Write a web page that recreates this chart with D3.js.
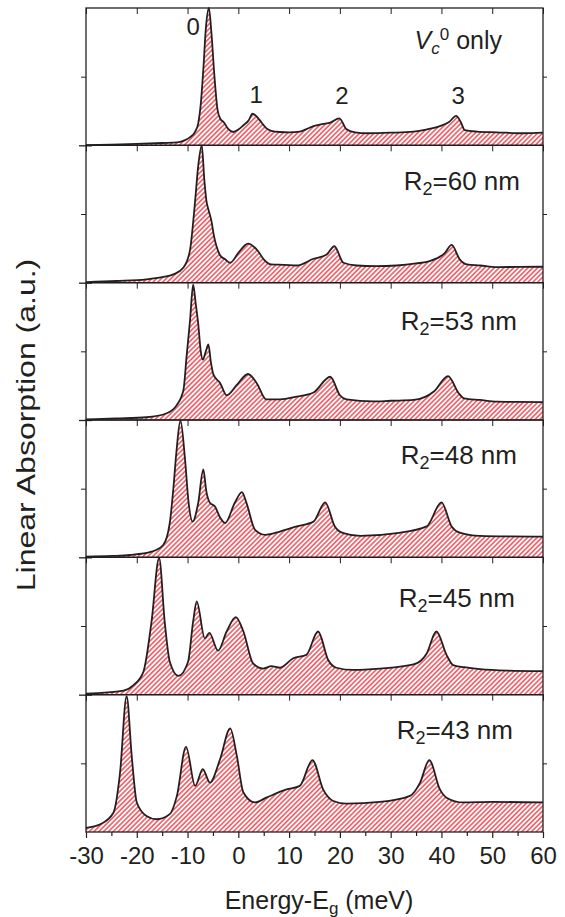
<!DOCTYPE html>
<html lang="en">
<head>
<meta charset="UTF-8">
<title>Linear Absorption</title>
<script src="https://cdn.jsdelivr.net/npm/d3@7"></script>
<style>
    body { margin: 0; padding: 0; background: #fff; }
    svg { display: block; font-family: "Liberation Sans", Arial, sans-serif; }
</style>
</head>
<body>
<div id="chart"></div>
<script>
    // Spectra: [energy (meV), absorption relative to panel height]
    const vc0Only = [[-30,0.002],[-25,0.005],[-20,0.01],[-15,0.017],[-12,0.022],[-10.5,0.038],[-9.5,0.06],[-8.5,0.1],[-7.9,0.16],[-7.4,0.3],[-6.9,0.55],[-6.4,0.85],[-5.8,1.0],[-5.3,0.82],[-4.7,0.5],[-4.1,0.26],[-3.5,0.19],[-2.9,0.17],[-2,0.12],[-1,0.097],[0,0.115],[1,0.146],[2,0.18],[2.8,0.23],[3.6,0.21],[4.5,0.17],[5.5,0.125],[6.5,0.105],[8.2,0.097],[10,0.095],[12.1,0.1],[13.5,0.12],[14.8,0.14],[16.5,0.155],[18.1,0.165],[19.9,0.197],[21.3,0.117],[23,0.095],[25.3,0.088],[30,0.092],[34.5,0.1],[37,0.115],[39.7,0.14],[41.5,0.17],[42.9,0.214],[43.8,0.17],[44.6,0.11],[47,0.1],[50.9,0.095],[56.1,0.088],[60,0.092]];
    const r60 = [[-30,0.004],[-24,0.012],[-18.1,0.024],[-15,0.04],[-12.8,0.06],[-10.8,0.11],[-9.5,0.24],[-9,0.4],[-8.5,0.6],[-7.9,0.85],[-7.2,1.0],[-6.7,0.75],[-6.3,0.6],[-5.8,0.52],[-5.3,0.45],[-4.8,0.34],[-4.3,0.265],[-3.6,0.2],[-2.6,0.17],[-1.6,0.145],[0,0.217],[1.9,0.285],[3.9,0.229],[5,0.17],[6.5,0.133],[9,0.13],[11.5,0.125],[14.8,0.174],[17.4,0.205],[18.9,0.265],[20.7,0.145],[23.3,0.125],[27,0.12],[31.2,0.125],[35,0.14],[37.7,0.157],[40.7,0.217],[42,0.275],[43.6,0.17],[45,0.133],[47.6,0.125],[50.9,0.113],[55,0.115],[60,0.116]];
    const r53 = [[-30,0.005],[-24,0.012],[-18.1,0.02],[-14.1,0.049],[-12.1,0.11],[-10.8,0.22],[-10.2,0.46],[-9.5,0.73],[-8.9,0.985],[-8.4,0.85],[-7.9,0.7],[-7.4,0.5],[-7,0.44],[-6.4,0.5],[-5.9,0.55],[-5.4,0.42],[-4.9,0.33],[-3.6,0.27],[-2.3,0.18],[-0.3,0.255],[1.9,0.335],[3.6,0.27],[5.5,0.15],[8.2,0.15],[11.5,0.17],[14.8,0.2],[18.1,0.315],[20,0.18],[21.3,0.15],[26.6,0.135],[30,0.14],[34.5,0.146],[38.5,0.207],[41.3,0.32],[43.4,0.195],[44.4,0.158],[47.6,0.146],[51,0.134],[55,0.132],[60,0.13]];
    const r48 = [[-30,0.005],[-25,0.01],[-21.3,0.017],[-17.1,0.041],[-14.8,0.09],[-13.5,0.25],[-12.8,0.5],[-12.2,0.765],[-11.4,0.997],[-10.5,0.715],[-9.8,0.4],[-9,0.26],[-7.9,0.397],[-6.9,0.64],[-6.3,0.48],[-5.6,0.397],[-4.6,0.37],[-3.6,0.29],[-2.6,0.25],[-0.7,0.397],[0.7,0.475],[1.6,0.397],[3.3,0.2],[5.3,0.164],[8.2,0.188],[11.5,0.225],[14.8,0.26],[17.1,0.4],[19,0.225],[20.7,0.176],[24,0.156],[31.2,0.176],[37.1,0.225],[40,0.4],[42,0.225],[43.6,0.18],[47.6,0.156],[53,0.152],[60,0.151]];
    const r45 = [[-30,0.007],[-22.6,0.03],[-20.7,0.068],[-18.7,0.166],[-17.1,0.53],[-15.6,0.995],[-14.5,0.53],[-13.5,0.24],[-11.8,0.137],[-9.9,0.24],[-8.9,0.533],[-8.2,0.68],[-6.6,0.41],[-5.7,0.45],[-4,0.32],[-2.3,0.46],[-0.5,0.565],[1,0.46],[2.9,0.228],[4.9,0.19],[6.5,0.208],[8.2,0.196],[10.8,0.265],[13.4,0.29],[15.7,0.46],[17.7,0.252],[19.3,0.196],[22.6,0.18],[27.9,0.19],[34.5,0.22],[37.1,0.3],[39,0.46],[41,0.29],[42.3,0.215],[44.5,0.2],[47.6,0.186],[53,0.175],[60,0.171]];
    const r43 = [[-30,0.03],[-27.2,0.056],[-24.6,0.14],[-23.3,0.43],[-22,0.99],[-21,0.555],[-20,0.215],[-18.1,0.117],[-16.1,0.093],[-13.5,0.13],[-12.1,0.263],[-10.3,0.62],[-8.5,0.336],[-7,0.458],[-5.6,0.36],[-3.6,0.53],[-1.6,0.755],[-0.3,0.555],[1,0.288],[3.3,0.215],[5.5,0.25],[9.5,0.31],[12.1,0.336],[14.6,0.523],[16.7,0.31],[18.7,0.226],[21.3,0.207],[27.9,0.219],[33.8,0.263],[35.8,0.36],[37.6,0.523],[39.7,0.31],[41,0.25],[44.3,0.215],[50,0.219],[60,0.215]];

    const spectra = [vc0Only, r60, r53, r48, r45, r43];
    const panelLabels = ["vc0", "R2=60 nm", "R2=53 nm", "R2=48 nm", "R2=45 nm", "R2=43 nm"];
    const peakLabels = ["0", "1", "2", "3"];
    const peakEnergies = [-8.9, 3.5, 20.4, 43.3];
    const peakHeights = [0.80, 0.31, 0.30, 0.30];
    const energyTicks = d3.range(-30, 61, 10);
    const minorTicks = d3.range(-25, 60, 10);

    const width = 565, height = 917;
    const plotTop = 8, plotBottom = 832;
    const plotLeft = 86, plotRight = 543;
    const ink = "#231f20";

    const svg = d3.select("#chart").append("svg")
        .attr("width", width)
        .attr("height", height);

    // red diagonal hatch
    const pat = svg.append("defs").append("pattern")
        .attr("id", "hatch")
        .attr("patternUnits", "userSpaceOnUse")
        .attr("width", 3.4).attr("height", 3.4)
        .attr("patternTransform", "rotate(45)");
    pat.append("rect").attr("width", 3.4).attr("height", 3.4).attr("fill", "#fff");
    pat.append("line")
        .attr("x1", 1.7).attr("y1", 0).attr("x2", 1.7).attr("y2", 3.4)
        .attr("stroke", "#ef2530").attr("stroke-width", 1.2);

    const x = d3.scaleLinear().domain([-30, 60]).range([plotLeft, plotRight]);
    const band = d3.scaleBand().domain(d3.range(spectra.length)).range([plotTop, plotBottom]);

    // label placement (right end, offset from panel top)
    const labelRight = [502, 520, 517, 517, 515, 513];
    const labelDrop = [41, 45, 47, 43.5, 50, 44.5];

    spectra.forEach((data, i) => {
        const y0 = band(i), y1 = band(i) + band.bandwidth();
        const y = d3.scaleLinear().domain([0, 1]).range([y1, y0]);
        const g = svg.append("g");

        const area = d3.area()
            .x(d => x(d[0])).y0(y1).y1(d => y(d[1]))
            .curve(d3.curveMonotoneX);
        const line = d3.line()
            .x(d => x(d[0])).y(d => y(d[1]))
            .curve(d3.curveMonotoneX);

        g.append("path").datum(data).attr("d", area).attr("fill", "url(#hatch)");
        g.append("path").datum(data).attr("d", line)
            .attr("fill", "none").attr("stroke", ink).attr("stroke-width", 1.8)
            .attr("stroke-linejoin", "round");

        g.append("rect")
            .attr("x", plotLeft).attr("y", y0)
            .attr("width", plotRight - plotLeft).attr("height", y1 - y0)
            .attr("fill", "none").attr("stroke", ink).attr("stroke-width", 1.3);

        // inward ticks on top edge
        g.append("g").attr("transform", `translate(0,${y0})`)
            .call(d3.axisTop(x).tickValues(energyTicks).tickSize(-6).tickFormat(""))
            .call(a => a.select(".domain").remove())
            .selectAll("line").attr("stroke", ink).attr("stroke-width", 1);

        // left ticks: mid (outward) and boundary (crossing)
        g.append("g").attr("transform", `translate(${plotLeft},0)`)
            .call(d3.axisLeft(y).tickValues([0.5]).tickSize(5).tickFormat(""))
            .call(a => a.select(".domain").remove())
            .selectAll("line").attr("stroke", ink).attr("stroke-width", 1);
        if (i < spectra.length - 1) {
            g.append("g").attr("transform", `translate(${plotLeft},0)`)
                .call(d3.axisLeft(y).tickValues([0]).tickSize(7).tickFormat(""))
                .call(a => a.select(".domain").remove())
                .selectAll("line").attr("stroke", ink).attr("stroke-width", 1.3);
            g.append("g").attr("transform", `translate(${plotLeft},0)`)
                .call(d3.axisRight(y).tickValues([0]).tickSize(6).tickFormat(""))
                .call(a => a.select(".domain").remove())
                .selectAll("line").attr("stroke", ink).attr("stroke-width", 1.3);
        }
        g.append("g").attr("transform", `translate(${plotRight},0)`)
            .call(d3.axisRight(y).tickValues([0.5]).tickSize(4).tickFormat(""))
            .call(a => a.select(".domain").remove())
            .selectAll("line").attr("stroke", ink).attr("stroke-width", 1);

        // panel label
        const t = g.append("text")
            .attr("x", labelRight[i]).attr("y", y0 + labelDrop[i])
            .attr("text-anchor", "end")
            .attr("fill", ink);
        if (i === 0) {
            t.attr("font-size", 25);
            t.append("tspan").attr("font-style", "italic").text("V");
            t.append("tspan").attr("font-style", "italic").attr("font-size", 17).attr("dy", 5).text("c");
            t.append("tspan").attr("font-size", 17).attr("dy", -14).text("0");
            t.append("tspan").attr("dy", 9).text(" only");
        } else {
            const parts = panelLabels[i].split("2");
            t.attr("font-size", 26);
            t.append("tspan").text(parts[0]);
            t.append("tspan").attr("font-size", 18).attr("dy", 5).text("2");
            t.append("tspan").attr("dy", -5).text(parts[1]);
        }

        if (i === 0) {
            g.selectAll(".peak").data(peakLabels).join("text")
                .attr("x", (d, k) => x(peakEnergies[k]))
                .attr("y", (d, k) => y(peakHeights[k]))
                .attr("text-anchor", "middle")
                .attr("font-size", 24)
                .attr("fill", ink)
                .text(d => d);
        }
    });

    // bottom axis
    const xAxis = svg.append("g").attr("transform", `translate(0,${plotBottom})`)
        .call(d3.axisBottom(x).tickValues(energyTicks).tickSize(6).tickPadding(9)
            .tickFormat(d => String(d)));
    xAxis.select(".domain").remove();
    xAxis.selectAll("line").attr("stroke", ink).attr("stroke-width", 1.2);
    xAxis.selectAll("text").attr("font-size", 24).attr("fill", ink)
        .attr("font-family", "'Liberation Sans', Arial, sans-serif");
    const xMinor = svg.append("g").attr("transform", `translate(0,${plotBottom})`)
        .call(d3.axisBottom(x).tickValues(minorTicks).tickSize(4).tickFormat(""));
    xMinor.select(".domain").remove();
    xMinor.selectAll("line").attr("stroke", ink).attr("stroke-width", 1.2);

    // axis titles
    const xt = svg.append("text")
        .attr("x", 319).attr("y", 909)
        .attr("text-anchor", "middle").attr("font-size", 25).attr("fill", ink);
    xt.append("tspan").text("Energy-E");
    xt.append("tspan").attr("font-size", 17).attr("dy", 5).text("g");
    xt.append("tspan").attr("dy", -5).text(" (meV)");

    svg.append("text")
        .attr("transform", `translate(35,425) rotate(-90) scale(1,0.82)`)
        .attr("text-anchor", "middle").attr("font-size", 32).attr("fill", ink)
        .text("Linear Absorption (a.u.)");
</script>
</body>
</html>
